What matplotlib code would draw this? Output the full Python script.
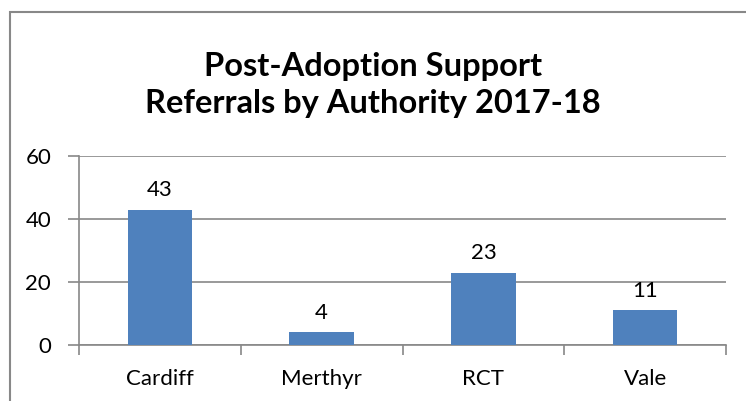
import matplotlib
matplotlib.use("Agg")
import matplotlib.pyplot as plt
from matplotlib.patches import Rectangle

categories = ["Cardiff", "Merthyr", "RCT", "Vale"]
referrals = [43, 4, 23, 11]
yticks = [0, 20, 40, 60]
title = "Post-Adoption Support\nReferrals by Authority 2017-18"

plt.rcParams["font.family"] = ["Lato", "DejaVu Sans"]

fig = plt.figure(figsize=(7.46, 4.01), dpi=100)
# outer chart border (right and bottom edges fall outside the image)
fig.patches.append(Rectangle((10 / 746, -0.05), 1.0, 1 - 12 / 401 + 0.05,
                             transform=fig.transFigure, fill=False,
                             edgecolor="#888888", linewidth=1.5))

ax = fig.add_axes([79 / 746, 1 - 345 / 401, (726 - 79) / 746, (345 - 156) / 401])
x = range(len(categories))
ax.bar(x, referrals, width=0.4, color="#4F81BD", zorder=3)
for xi, v in zip(x, referrals):
    ax.text(xi, v + 3, str(v), ha="center", va="bottom", fontsize=16, color="black")

ax.set_xlim(-0.5, len(categories) - 0.5)
ax.set_ylim(0, 60)
ax.set_yticks(yticks)
ax.set_yticklabels([str(t) for t in yticks], fontsize=16)
ax.yaxis.grid(True, color="#888888", linewidth=1.2, zorder=0)
ax.tick_params(axis="y", length=8, width=1.2, color="#888888", pad=12)

ax.set_xticks(x)
ax.set_xticklabels(categories, fontsize=16)
ax.tick_params(axis="x", length=0, pad=17)
# category boundary tick marks
ax.set_xticks([i - 0.5 for i in range(len(categories) + 1)], minor=True)
ax.tick_params(axis="x", which="minor", length=7, width=1.2, color="#888888")

for side in ["top", "right"]:
    ax.spines[side].set_visible(False)
for side in ["left", "bottom"]:
    ax.spines[side].set_color("#888888")
    ax.spines[side].set_linewidth(1.2)

fig.text(0.5, 1 - 85 / 401, title, ha="center", va="center", fontsize=23.5,
         fontweight="bold", linespacing=1.35)

fig.savefig("out.png", dpi=100)
